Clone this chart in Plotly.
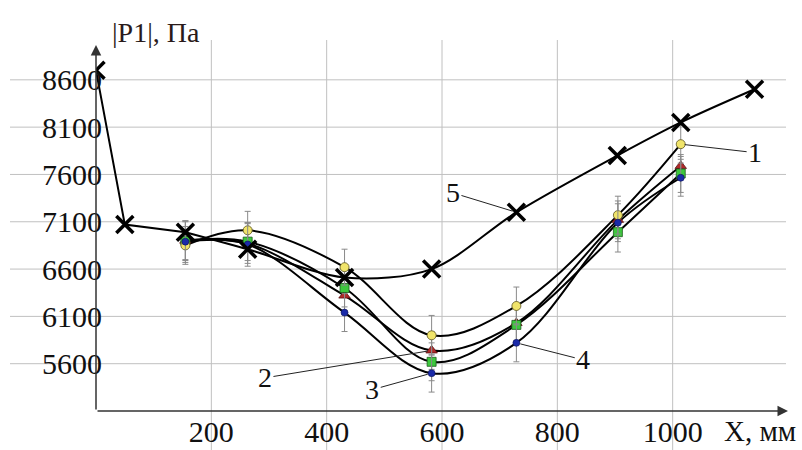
import plotly.graph_objects as go

# ---------------- data ----------------
x5 = [0, 50, 155, 263, 431, 582, 729, 904, 1014, 1142]
p5 = [8700, 7070, 6990, 6810, 6510, 6600, 7200, 7800, 8150, 8500]

x_exp = [155, 263, 431, 582, 729, 905, 1014]
p1 = [6850, 7010, 6620, 5900, 6210, 7170, 7920]
p2 = [6900, 6870, 6320, 5740, 6030, 7120, 7690]
p3 = [6900, 6890, 6400, 5620, 6010, 6990, 7610]
p4 = [6890, 6860, 6140, 5500, 5820, 7090, 7565]
e1 = [200, 200, 190, 210, 200, 200, 200]
e2 = [200, 210, 200, 200, 200, 200, 100]
e3 = [210, 200, 200, 200, 200, 210, 200]
e4 = [220, 230, 200, 200, 200, 200, 195]

yticks = [5600, 6100, 6600, 7100, 7600, 8100, 8600]
xticks = [200, 400, 600, 800, 1000]

FONT = "Liberation Serif"
W, H = 802, 450
ML, MR, MT, MB = 96, 14, 45, 39
XR = [0, 1200]
YR = [5100, 8968]

fig = go.Figure()

# experimental series: curves
for ys in (p1, p2, p3, p4):
    fig.add_trace(go.Scatter(x=x_exp, y=ys, mode="lines",
                             line=dict(color="black", width=2, shape="spline", smoothing=1.0),
                             hoverinfo="skip"))
# series 5 line
fig.add_trace(go.Scatter(x=x5[:3], y=p5[:3], mode="lines",
                         line=dict(color="black", width=2)))
fig.add_trace(go.Scatter(x=x5[2:], y=p5[2:], mode="lines",
                         line=dict(color="black", width=2, shape="spline", smoothing=0.9)))

# markers with error bars
styles = [
    (p2, e2, dict(symbol="triangle-up", size=10, color="#b02a2a", line=dict(color="#5a1010", width=0.8))),
    (p3, e3, dict(symbol="square", size=9, color="#3cc83c", line=dict(color="#1d5a1d", width=0.8))),
    (p1, e1, dict(symbol="circle", size=9, color="#f0e46a", line=dict(color="#5a5320", width=0.8))),
    (p4, e4, dict(symbol="circle", size=7, color="#1a2aa8", line=dict(color="#0a1050", width=0.6))),
]
for ys, es, mk in styles:
    fig.add_trace(go.Scatter(x=x_exp, y=ys, mode="markers", marker=mk,
                             error_y=dict(type="data", array=es, visible=True,
                                          color="#8a8a8a", thickness=1, width=3)))

fig.add_trace(go.Scatter(x=x5, y=p5, mode="markers",
                         marker=dict(symbol="x-thin", size=17,
                                     line=dict(color="black", width=3.5))))

# grid lines (extend beyond plot area as in the original)
pw = W - ML - MR
ph = H - MT - MB
for yv in yticks:
    fig.add_shape(type="line", xref="paper", yref="y",
                  x0=(10 - ML) / pw, x1=(786 - ML) / pw, y0=yv, y1=yv,
                  line=dict(color="#c0c0c0", width=1), layer="below")
for xv in xticks:
    fig.add_shape(type="line", xref="x", yref="paper",
                  x0=xv, x1=xv, y0=-MB / ph, y1=1 + (MT - 40) / ph,
                  line=dict(color="#c0c0c0", width=1), layer="below")

# axis lines with arrows
fig.add_annotation(x=XR[0], y=YR[1], ax=XR[0], ay=YR[0], axref="x", ayref="y",
                   xref="x", yref="y", text="", showarrow=True, arrowhead=2,
                   arrowsize=1.4, arrowwidth=1.5, arrowcolor="#333")
fig.add_annotation(x=XR[1], y=YR[0], ax=XR[0], ay=YR[0], axref="x", ayref="y",
                   xref="x", yref="y", text="", showarrow=True, arrowhead=2,
                   arrowsize=1.4, arrowwidth=1.5, arrowcolor="#333")

# curve labels
labels = [("1", 1014, 7920, 1143, 7830),
          ("2", 582, 5740, 293, 5450),
          ("3", 582, 5500, 479, 5325),
          ("4", 729, 5820, 845, 5640),
          ("5", 729, 7200, 619, 7405)]
for t, xp, yp, xt, yt in labels:
    fig.add_annotation(x=xp, y=yp, ax=xt, ay=yt, axref="x", ayref="y",
                       text=t, showarrow=True, arrowhead=0, arrowwidth=1,
                       arrowcolor="#222", standoff=4,
                       font=dict(family=FONT, size=28, color="#111"))

# axis titles
fig.add_annotation(xref="x", yref="paper", x=1085, y=-0.055, xanchor="left",
                   yanchor="middle", text="X, мм", showarrow=False,
                   font=dict(family=FONT, size=29, color="#111"))
fig.add_annotation(xref="x", yref="paper", x=24, y=1.035, xanchor="left",
                   yanchor="middle", text="|P1|, Па", showarrow=False,
                   font=dict(family=FONT, size=28, color="#2a1a1a"))

fig.update_xaxes(range=XR, tickvals=xticks, showgrid=False, zeroline=False, automargin=False,
                 showline=False, ticks="", tickfont=dict(family=FONT, size=30, color="#111"))
fig.update_yaxes(range=YR, tickvals=yticks, showgrid=False, zeroline=False, automargin=False,
                 showline=False, ticks="", ticklabelstandoff=-7,
                 tickfont=dict(family=FONT, size=30, color="#111"))
fig.update_layout(width=W, height=H, margin=dict(l=ML, r=MR, t=MT, b=MB),
                  plot_bgcolor="white", paper_bgcolor="white", showlegend=False)

fig.write_html("out.html", config={"displayModeBar": False},
               post_script="document.body.style.margin='0px';document.body.style.overflow='hidden';")
